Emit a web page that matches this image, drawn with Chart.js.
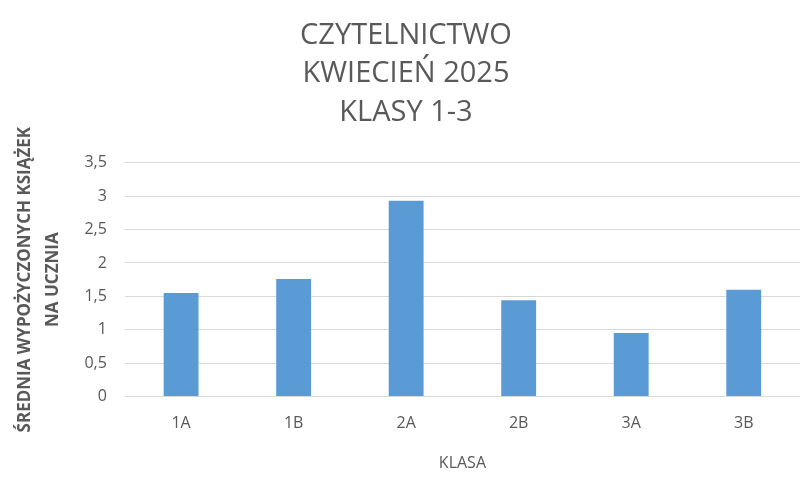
<!DOCTYPE html>
<html>
<head>
<meta charset="utf-8">
<script src="https://cdn.jsdelivr.net/npm/chart.js@4"></script>
<style>
  html, body { margin: 0; padding: 0; background: #fff; }
  #wrap { width: 800px; height: 481px; position: relative; }
</style>
</head>
<body>
<div id="wrap"><canvas id="chart"></canvas></div>
<script>
// data
const classes = ['1A', '1B', '2A', '2B', '3A', '3B'];
const avgBooks = [1.55, 1.76, 2.93, 1.44, 0.95, 1.6];
const titleLines = ['CZYTELNICTWO', 'KWIECIEŃ 2025', 'KLASY 1-3'];
const yTitleLines = ['ŚREDNIA WYPOŻYCZONYCH KSIĄŻEK', 'NA UCZNIA'];
const xTitle = 'KLASA';

const font = "'Open Sans', sans-serif";
const grey = '#595959';

new Chart(document.getElementById('chart'), {
    type: 'bar',
    data: {
        labels: classes,
        datasets: [{
            data: avgBooks,
            backgroundColor: '#5b9bd5',
            categoryPercentage: 1,
            barPercentage: 0.31
        }]
    },
    options: {
        responsive: true,
        maintainAspectRatio: false,
        animation: false,
        layout: { padding: { left: 12, right: 0, top: 10, bottom: 8 } },
        plugins: {
            legend: { display: false },
            tooltip: { enabled: false },
            title: {
                display: true,
                text: titleLines,
                color: grey,
                font: { family: font, size: 29, weight: 'normal', lineHeight: 1.33 },
                padding: { top: 6, bottom: 31 }
            }
        },
        scales: {
            y: {
                min: 0,
                max: 3.5,
                ticks: {
                    stepSize: 0.5,
                    color: grey,
                    font: { family: font, size: 16 },
                    padding: 18,
                    callback: v => String(v).replace('.', ',')
                },
                grid: { color: '#d9d9d9', drawTicks: false },
                border: { display: false },
                title: {
                    display: true,
                    text: yTitleLines,
                    color: grey,
                    font: { family: font, size: 17, weight: 'bold', lineHeight: 1.6 },
                    padding: { top: 0, bottom: 0 }
                }
            },
            x: {
                ticks: {
                    color: grey,
                    font: { family: font, size: 16 },
                    padding: 17
                },
                grid: { display: false, drawTicks: false },
                border: { display: false },
                title: {
                    display: true,
                    text: xTitle,
                    color: grey,
                    font: { family: font, size: 16, weight: 'normal' },
                    padding: { top: 4, bottom: 0 }
                }
            }
        }
    }
});
</script>
</body>
</html>
